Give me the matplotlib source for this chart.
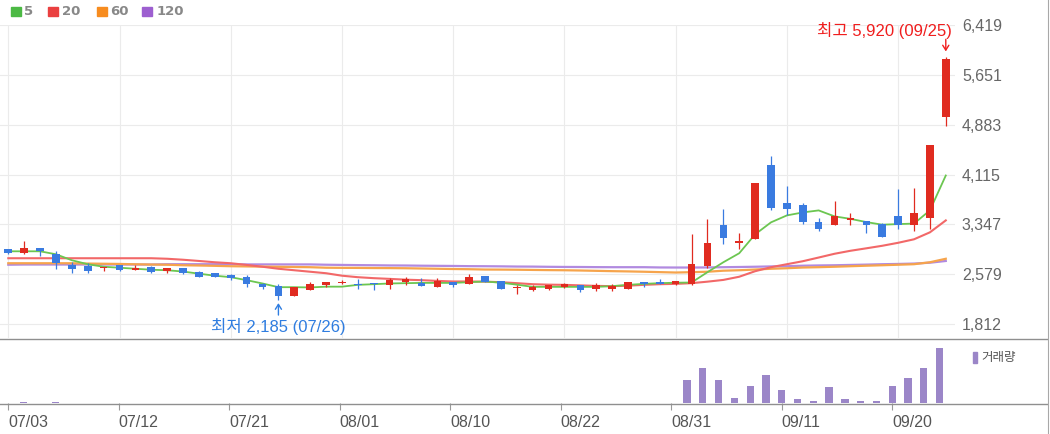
import matplotlib.pyplot as plt
import numpy as np
from matplotlib.patches import Rectangle
from matplotlib.lines import Line2D

plt.rcParams['font.family'] = ['Liberation Sans', 'Noto Sans CJK KR', 'DejaVu Sans']

dates = ['07/03', '07/04', '07/05', '07/06', '07/07', '07/10', '07/11', '07/12', '07/13', '07/14',
         '07/17', '07/18', '07/19', '07/20', '07/21', '07/24', '07/25', '07/26', '07/27', '07/28',
         '07/31', '08/01', '08/02', '08/03', '08/04', '08/07', '08/08', '08/09', '08/10', '08/11',
         '08/14', '08/16', '08/17', '08/18', '08/21', '08/22', '08/23', '08/24', '08/25', '08/28',
         '08/29', '08/30', '08/31', '09/01', '09/04', '09/05', '09/06', '09/07', '09/08', '09/11',
         '09/12', '09/13', '09/14', '09/15', '09/18', '09/19', '09/20', '09/21', '09/22', '09/25']

opens = [2965, 2905, 2990, 2895, 2720, 2700, 2670, 2715, 2640, 2690,
         2630, 2670, 2620, 2590, 2570, 2535, 2425, 2395, 2240, 2335,
         2415, 2445, 2435, 2445, 2415, 2465, 2445, 2385, 2465, 2425,
         2550, 2475, 2365, 2335, 2345, 2385, 2415, 2355, 2355, 2355,
         2455, 2465, 2425, 2425, 2705, 3330, 3065, 3125, 4255, 3680,
         3640, 3380, 3340, 3415, 3395, 3345, 3475, 3335, 3450, 4995]
highs = [2975, 3090, 2990, 2930, 2765, 2745, 2690, 2715, 2720, 2710,
         2670, 2675, 2625, 2595, 2575, 2570, 2445, 2425, 2385, 2455,
         2455, 2485, 2505, 2445, 2515, 2530, 2515, 2515, 2465, 2580,
         2550, 2480, 2405, 2405, 2420, 2445, 2415, 2445, 2435, 2460,
         2455, 2500, 2480, 3195, 3425, 3590, 3220, 3985, 4395, 3935,
         3670, 3450, 3705, 3525, 3400, 3375, 3895, 3910, 4570, 5920]
lows = [2885, 2885, 2855, 2660, 2590, 2600, 2630, 2635, 2640, 2590,
        2590, 2585, 2535, 2535, 2490, 2385, 2355, 2185, 2240, 2335,
        2375, 2425, 2345, 2335, 2345, 2405, 2395, 2385, 2375, 2425,
        2465, 2350, 2270, 2315, 2340, 2365, 2305, 2325, 2325, 2350,
        2375, 2425, 2420, 2420, 2680, 3040, 2965, 3125, 3565, 3485,
        3355, 3245, 3340, 3340, 3220, 3155, 3270, 3245, 3270, 4855]
closes = [2905, 2990, 2930, 2745, 2660, 2630, 2690, 2640, 2670, 2620,
          2670, 2590, 2540, 2540, 2520, 2425, 2375, 2240, 2385, 2425,
          2455, 2465, 2415, 2425, 2485, 2500, 2395, 2475, 2415, 2530,
          2465, 2355, 2385, 2385, 2415, 2425, 2335, 2405, 2395, 2455,
          2425, 2425, 2475, 2735, 3055, 3135, 3085, 3985, 3605, 3590,
          3380, 3270, 3475, 3450, 3340, 3160, 3335, 3515, 4570, 5900]

# moving averages as shown on the chart
ma5 = [2932, 2932, 2932, 2886, 2794, 2733, 2694, 2679, 2663, 2648,
       2640, 2620, 2587, 2556, 2533, 2487, 2436, 2379, 2379, 2375,
       2387, 2387, 2415, 2425, 2436, 2441, 2445, 2445, 2445, 2456,
       2467, 2448, 2418, 2384, 2384, 2384, 2384, 2384, 2395, 2415,
       2430, 2441, 2448, 2451, 2610, 2763, 2902, 3193, 3378, 3485,
       3531, 3562, 3470, 3432, 3382, 3342, 3351, 3359, 3562, 4100]
ma20 = [2825, 2825, 2825, 2825, 2825, 2825, 2825, 2825, 2825, 2825,
        2817, 2802, 2783, 2763, 2748, 2722, 2694, 2663, 2640, 2617,
        2594, 2556, 2533, 2518, 2507, 2495, 2487, 2476, 2467, 2467,
        2464, 2456, 2441, 2425, 2418, 2415, 2407, 2399, 2395, 2402,
        2415, 2425, 2430, 2441, 2464, 2491, 2540, 2625, 2687, 2733,
        2779, 2836, 2894, 2940, 2978, 3017, 3063, 3117, 3224, 3408]
ma60 = [2748, 2748, 2748, 2748, 2748, 2743, 2740, 2737, 2732, 2728,
        2725, 2717, 2713, 2708, 2702, 2699, 2696, 2693, 2690, 2687,
        2679, 2677, 2676, 2674, 2673, 2671, 2667, 2663, 2659, 2656,
        2651, 2650, 2648, 2645, 2642, 2640, 2636, 2631, 2626, 2622,
        2617, 2611, 2605, 2610, 2617, 2633, 2640, 2651, 2663, 2671,
        2682, 2687, 2694, 2702, 2710, 2717, 2725, 2733, 2763, 2817]
ma120 = [2725, 2728, 2728, 2728, 2728, 2728, 2728, 2728, 2728, 2728,
         2733, 2733, 2733, 2733, 2733, 2730, 2730, 2730, 2730, 2730,
         2725, 2722, 2719, 2717, 2714, 2713, 2710, 2708, 2706, 2703,
         2702, 2700, 2697, 2696, 2693, 2691, 2690, 2688, 2687, 2687,
         2687, 2683, 2682, 2682, 2683, 2687, 2690, 2694, 2699, 2702,
         2710, 2714, 2717, 2722, 2727, 2733, 2737, 2743, 2756, 2783]

volume = [5, 140, 5, 140, 5, 4, 5, 4, 5, 4,
          5, 4, 5, 4, 5, 4, 5, 4, 5, 4,
          5, 4, 5, 4, 5, 4, 5, 4, 5, 4,
          5, 4, 5, 4, 5, 4, 5, 4, 5, 4,
          5, 4, 5, 2300, 3470, 2300, 530, 1700, 2770, 1270,
          370, 200, 1570, 370, 200, 200, 1700, 2470, 3470, 5470]

price_ticks = [1812, 2579, 3347, 4115, 4883, 5651, 6419]
tick_idx = list(range(0, 57, 7))

red = '#e02b20'
blue = '#3a7be0'
vol_color = '#9b86c8'

W, H = 1050, 434


def box(x0, y0, x1, y1):
    return [x0 / W, 1 - y1 / H, (x1 - x0) / W, (y1 - y0) / H]


fig = plt.figure(figsize=(W / 100, H / 100), dpi=100)
ax = fig.add_axes(box(0, 25, 955, 338))
axv = fig.add_axes(box(0, 339, 1047, 403))

x = np.arange(len(dates))
o = np.array(opens)
c = np.array(closes)
up = c >= o
cols = np.where(up, red, blue)

# grid
ax.set_xticks(tick_idx)
ax.set_yticks(price_ticks)
ax.set_yticklabels([f'{v:,}' for v in price_ticks])
ax.grid(True, color='#ebebeb', lw=0.8)
ax.set_axisbelow(True)
ax.yaxis.tick_right()
ax.tick_params(axis='y', length=0, pad=5, labelsize=11.5, labelcolor='#666666')
ax.tick_params(axis='x', length=0, labelbottom=False)
for s in ax.spines.values():
    s.set_visible(False)

# moving averages
ax.plot(x, ma120, color='#b18ae0', lw=1.6, zorder=2)
ax.plot(x, ma60, color='#f6a44c', lw=1.6, zorder=2)
ax.plot(x, ma20, color='#f26868', lw=1.5, zorder=2)
ax.plot(x, ma5, color='#6cc651', lw=1.3, zorder=2)

# candles
ax.vlines(x, lows, highs, color=cols, lw=0.9, zorder=3)
body_h = np.maximum(np.abs(c - o), 15)
ax.bar(x, body_h, bottom=np.minimum(o, c), width=0.48, color=cols, zorder=4)

ax.set_xlim(-0.522, 59.58)
ax.set_ylim(1596, 6419)

# high / low marks
ihi = int(np.argmax(highs))
ilo = int(np.argmin(lows))
hi_c = '#f01e1e'
lo_c = '#2f7de0'
ax.annotate('', xy=(ihi, highs[ihi]), xytext=(0, 13), textcoords='offset points',
            arrowprops=dict(arrowstyle='->,head_length=0.35,head_width=0.22', color=hi_c,
                            lw=1.0, shrinkA=0, shrinkB=4.3))
ax.annotate(f'최고 {highs[ihi]:,} ({dates[ihi]})', xy=(ihi, highs[ihi]), xytext=(4.3, 19.5),
            textcoords='offset points', ha='right', va='center', color=hi_c, fontsize=12)
ax.annotate('', xy=(ilo, lows[ilo]), xytext=(0, -11), textcoords='offset points',
            arrowprops=dict(arrowstyle='->,head_length=0.35,head_width=0.22', color=lo_c,
                            lw=1.0, shrinkA=0, shrinkB=2.4))
ax.annotate(f'최저 {lows[ilo]:,} ({dates[ilo]})', xy=(ilo, lows[ilo]), xytext=(0, -19),
            textcoords='offset points', ha='center', va='center', color=lo_c, fontsize=12)

# volume
axv.bar(x, volume, width=0.46, color=vol_color)
axv.set_xlim(-0.507, 65.8)
axv.set_ylim(0, 6400)
axv.set_yticks([])
axv.set_xticks(tick_idx)
axv.set_xticklabels([dates[i] for i in tick_idx], ha='left')
axv.tick_params(axis='x', length=5, color='#999999', pad=3.5, labelsize=11.5, labelcolor='#555555')
for s in axv.spines.values():
    s.set_visible(False)

# panel separators and frame
for yy in (338.5, 403.5):
    fig.add_artist(Line2D([0, 1047 / W], [1 - yy / H] * 2, color='#8f8f8f', lw=1.0))
fig.add_artist(Line2D([1047.5 / W] * 2, [0, 1], color='#a8a8a8', lw=0.8))

# legend
legend_items = [('5', '#4cb944', 11, 24), ('20', '#ea4040', 48, 62),
                ('60', '#f78c1f', 97, 110), ('120', '#9d5fd0', 142, 157)]
for lab, colr, xs, xt in legend_items:
    fig.add_artist(Rectangle((xs / W, 1 - 16 / H), 10 / W, 9 / H, color=colr))
    fig.text(xt / W, 1 - 11.5 / H, lab, fontsize=9.5, fontweight='bold', color='#888888',
             va='center', family='DejaVu Sans')

fig.add_artist(Rectangle((973 / W, 1 - 363 / H), 4 / W, 11 / H, color=vol_color))
fig.text(981 / W, 1 - 357.5 / H, '거래량', fontsize=9, color='#555555', va='center',
         family='Noto Sans CJK KR')

plt.savefig('out.png', dpi=100)
